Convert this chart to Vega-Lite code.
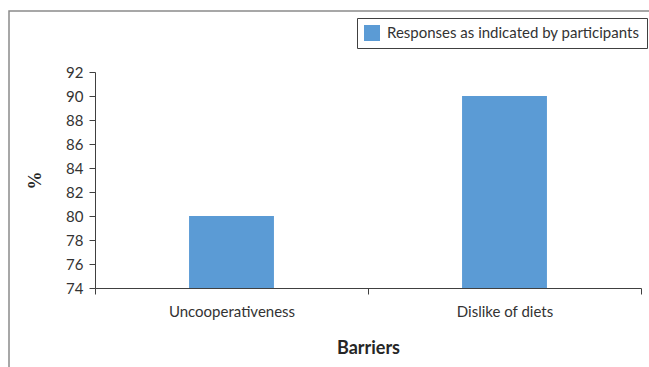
{
  "$schema": "https://vega.github.io/schema/vega-lite/v6.json",
  "width": 660,
  "height": 376,
  "autosize": {"type": "none"},
  "padding": {"left": 9, "top": 11, "right": -20, "bottom": -20},
  "background": "white",
  "config": {
    "view": {"stroke": "#8a8a8a", "strokeWidth": 1.5},
    "font": "Lato",
    "axis": {"domainColor": "#404040", "tickColor": "#404040", "labelColor": "#333333", "titleColor": "#262626", "grid": false}
  },
  "data": {
    "values": [
      {"barrier": "Uncooperativeness", "value": 80, "series": "Responses as indicated by participants"},
      {"barrier": "Dislike of diets", "value": 90, "series": "Responses as indicated by participants"}
    ]
  },
  "mark": {"type": "bar", "width": {"band": 0.311}},
  "encoding": {
    "x": {
      "field": "barrier",
      "type": "nominal",
      "sort": null,
      "scale": {"range": [86, 632], "paddingInner": 0, "paddingOuter": 0},
      "axis": {
        "title": "Barriers",
        "offset": -99,
        "labelAngle": 0,
        "labelFontSize": 15,
        "labelPadding": 10,
        "ticks": true,
        "tickBand": "extent",
        "tickSize": 6,
        "tickWidth": 1,
        "titleFontSize": 18,
        "titleFontWeight": "bold",
        "titlePadding": 20
      }
    },
    "y": {
      "field": "value",
      "type": "quantitative",
      "scale": {"domain": [74, 92], "range": [277, 61], "nice": false, "zero": false},
      "axis": {
        "offset": -86,
        "values": [74, 76, 78, 80, 82, 84, 86, 88, 90, 92],
        "title": "%",
        "titleFont": "Liberation Serif",
        "titleFontSize": 18,
        "titleFontWeight": "bold",
        "titleAngle": -90,
        "titleX": -60,
        "titleY": 169,
        "titleAlign": "center",
        "titleBaseline": "middle",
        "labelFontSize": 15,
        "labelPadding": 6,
        "tickSize": 6
      }
    },
    "y2": {"datum": 74},
    "color": {
      "field": "series",
      "type": "nominal",
      "scale": {"range": ["#5B9BD5"]},
      "legend": {
        "title": null,
        "orient": "none",
        "legendX": 348,
        "legendY": 7,
        "strokeColor": "#404040",
        "padding": 7,
        "symbolType": "square",
        "symbolSize": 256,
        "symbolStrokeWidth": 0,
        "symbolOpacity": 1,
        "labelFontSize": 15,
        "labelLimit": 0,
        "labelColor": "#333333",
        "labelOffset": 7
      }
    }
  }
}
